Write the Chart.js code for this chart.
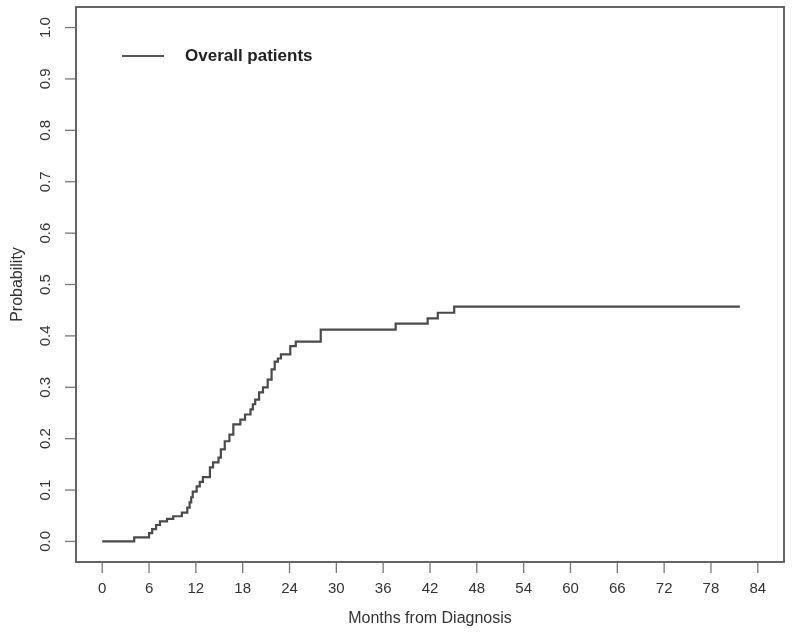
<!DOCTYPE html>
<html>
<head>
<meta charset="utf-8">
<script src="https://cdn.jsdelivr.net/npm/chart.js@4"></script>
<style>
  html, body { margin: 0; padding: 0; background: #fff; }
  #wrap { width: 800px; height: 641px; }
</style>
</head>
<body>
<div id="wrap"><canvas id="myChart"></canvas></div>
<script>
// step curve: month of each jump and level after it
var months = [0, 4.1, 6.0, 6.4, 6.9, 7.4, 8.3, 9.1, 10.2, 10.9, 11.2, 11.4, 11.6, 12.1, 12.5, 12.9,
              13.8, 14.2, 14.9, 15.2, 15.7, 16.3, 16.8, 17.7, 18.3, 19.0, 19.3, 19.6, 20.1, 20.6,
              21.2, 21.7, 22.1, 22.5, 22.9, 24.1, 24.8, 28.0, 37.6, 41.7, 43.0, 45.1, 81.7];
var probability = [0, 0.008, 0.016, 0.024, 0.032, 0.039, 0.044, 0.049, 0.056, 0.066, 0.076, 0.086, 0.097, 0.107, 0.116, 0.125,
                   0.144, 0.154, 0.163, 0.179, 0.195, 0.208, 0.228, 0.237, 0.247, 0.257, 0.267, 0.276, 0.29, 0.30,
                   0.315, 0.335, 0.35, 0.356, 0.364, 0.38, 0.389, 0.412, 0.424, 0.434, 0.445, 0.457, 0.457];
var xTicks = [0, 6, 12, 18, 24, 30, 36, 42, 48, 54, 60, 66, 72, 78, 84];
var yTicks = [0, 0.1, 0.2, 0.3, 0.4, 0.5, 0.6, 0.7, 0.8, 0.9, 1.0];
var seriesName = "Overall patients";
var xTitle = "Months from Diagnosis";
var yTitle = "Probability";

var pts = months.map((m, i) => ({x: m, y: probability[i]}));

var fam = "'Liberation Sans', Arial, sans-serif";
var ink = "#333";

// R style box, ticks, rotated y labels and legend
var rAxes = {
  id: "rAxes",
  afterDraw(chart) {
    var ctx = chart.ctx, a = chart.chartArea;
    var xs = chart.scales.x, ys = chart.scales.y;
    ctx.save();
    ctx.strokeStyle = "#555";
    ctx.lineWidth = 1.8;
    ctx.strokeRect(a.left, a.top, a.right - a.left, a.bottom - a.top);

    ctx.strokeStyle = "#777";
    ctx.lineWidth = 1.3;
    ctx.fillStyle = ink;
    ctx.font = "15px " + fam;
    ctx.textAlign = "center";
    ctx.textBaseline = "middle";
    xTicks.forEach(t => {
      var px = xs.getPixelForValue(t);
      ctx.beginPath();
      ctx.moveTo(px, a.bottom + 1);
      ctx.lineTo(px, a.bottom + 11);
      ctx.stroke();
      ctx.fillText(String(t), px, a.bottom + 27);
    });
    yTicks.forEach(t => {
      var py = ys.getPixelForValue(t);
      ctx.beginPath();
      ctx.moveTo(a.left - 1, py);
      ctx.lineTo(a.left - 11, py);
      ctx.stroke();
      ctx.save();
      ctx.translate(a.left - 30, py);
      ctx.rotate(-Math.PI / 2);
      ctx.fillText(t.toFixed(1), 0, 0);
      ctx.restore();
    });

    ctx.font = "16px " + fam;
    ctx.fillText(xTitle, (a.left + a.right) / 2, a.bottom + 57);
    ctx.save();
    ctx.translate(18, (a.top + a.bottom) / 2);
    ctx.rotate(-Math.PI / 2);
    ctx.fillText(yTitle, 0, 0);
    ctx.restore();

    // legend
    ctx.strokeStyle = "#555";
    ctx.lineWidth = 2.2;
    ctx.beginPath();
    ctx.moveTo(122, 56);
    ctx.lineTo(164, 56);
    ctx.stroke();
    ctx.font = "bold 17px " + fam;
    ctx.fillStyle = "#222";
    ctx.textAlign = "left";
    ctx.fillText(seriesName, 185, 56);
    ctx.restore();
  }
};

new Chart("myChart", {
  type: "line",
  data: {
    datasets: [{
      label: seriesName,
      data: pts,
      stepped: true,
      borderColor: "#4a4a4a",
      borderWidth: 2.2,
      pointRadius: 0,
      fill: false
    }]
  },
  options: {
    responsive: true,
    maintainAspectRatio: false,
    animation: false,
    layout: {padding: {left: 76, right: 16, top: 7, bottom: 79}},
    plugins: {legend: {display: false}, tooltip: {enabled: false}},
    scales: {
      x: {type: "linear", min: -3.36, max: 87.36, display: false},
      y: {type: "linear", min: -0.04, max: 1.04, display: false}
    }
  },
  plugins: [rAxes]
});
</script>
</body>
</html>
